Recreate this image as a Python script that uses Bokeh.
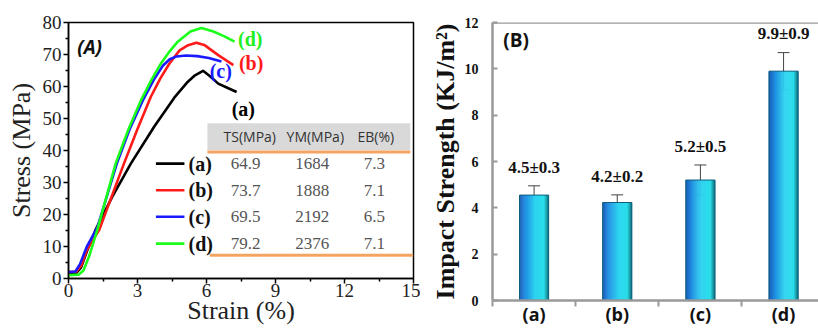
import numpy as np
from bokeh.plotting import figure
from bokeh.layouts import row
from bokeh.models import FixedTicker, ColumnDataSource, Whisker, TeeHead, Span, Range1d
from bokeh.core.properties import value
from bokeh.embed import file_html
from bokeh.resources import INLINE

# ---------------- Panel A data (stress-strain) ----------------
strain_a = [0, 0.35, 0.55, 0.8, 1.17, 1.9, 2.71, 3.73, 4.6, 5.19, 5.5, 5.85, 6.14, 6.51, 6.9, 7.31]
stress_a = [1.5, 1.8, 3.5, 8.5, 15.1, 25.5, 35.9, 47.5, 56.5, 61.5, 63.5, 64.9, 63.3, 60.9, 59.6, 58.3]
strain_b = [0, 0.35, 0.55, 0.8, 1.33, 2.41, 3.0, 3.58, 4.0, 4.39, 4.83, 5.2, 5.56, 5.9, 6.51, 7.17]
stress_b = [2.0, 2.2, 4.0, 9.0, 15.1, 35.9, 46.7, 56.8, 62.6, 67.2, 71.3, 72.9, 73.7, 73.0, 69.8, 66.7]
strain_c = [0, 0.3, 0.5, 0.8, 1.25, 2.1, 2.65, 3.22, 3.7, 4.1, 4.4, 4.7, 5.1, 5.6, 6.1, 6.65]
stress_c = [2.0, 2.2, 4.5, 10.0, 15.8, 35.9, 46.5, 55.5, 62.0, 66.5, 68.5, 69.4, 69.7, 69.5, 68.9, 67.8]
strain_d = [0, 0.45, 0.65, 0.9, 1.25, 2.05, 2.6, 3.14, 3.6, 4.02, 4.4, 4.75, 5.3, 5.78, 6.3, 6.8, 7.22]
stress_d = [1.0, 1.2, 2.5, 7.0, 15.1, 35.9, 46.5, 55.5, 62.0, 67.2, 71.0, 74.0, 77.2, 78.3, 77.2, 75.6, 74.0]

sample_names = ["(a)", "(b)", "(c)", "(d)"]
curve_colors = ["#000000", "#ff1a1a", "#1a1aff", "#1aff1a"]
label_colors = ["#000000", "#ff1a1a", "#1a1aff", "#22ee22"]
table_header = ["TS(MPa)", "YM(MPa)", "EB(%)"]
ts_vals = ["64.9", "73.7", "69.5", "79.2"]
ym_vals = ["1684", "1888", "2192", "2376"]
eb_vals = ["7.3", "7.1", "6.5", "7.1"]

# ---------------- Panel B data (impact strength) ----------------
bar_x = [1, 2, 3, 4]
bar_names = ["(a)", "(b)", "(c)", "(d)"]
impact = [4.55, 4.23, 5.2, 9.9]
impact_err = [0.4, 0.33, 0.65, 0.8]
impact_text = ["4.5\u00b10.3", "4.2\u00b10.2", "5.2\u00b10.5", "9.9\u00b10.9"]

SERIF = "Liberation Serif"
SANS = "Open Sans"

# ======================= Panel A =======================
pA = figure(width=420, height=328, output_backend="svg", toolbar_location=None,
            x_range=Range1d(0, 15), y_range=Range1d(0, 80),
            min_border_left=68, min_border_right=7, min_border_top=22, min_border_bottom=50)
pA.frame_align = False
pA.grid.visible = False
pA.outline_line_color = "#000000"
pA.outline_line_width = 1.5
pA.outline_line_alpha = 1.0

pA.xaxis.ticker = FixedTicker(ticks=[0, 3, 6, 9, 12, 15], minor_ticks=[1.5, 4.5, 7.5, 10.5, 13.5])
pA.yaxis.ticker = FixedTicker(ticks=list(range(0, 81, 10)), minor_ticks=list(range(5, 80, 10)))
for ax in (pA.xaxis[0], pA.yaxis[0]):
    ax.axis_line_color = "#000000"
    ax.axis_line_width = 1.5
    ax.major_tick_line_color = "#000000"
    ax.minor_tick_line_color = "#000000"
    ax.major_tick_line_width = 1.5
    ax.minor_tick_line_width = 1.5
    ax.major_tick_in = 0
    ax.major_tick_out = 5
    ax.minor_tick_in = 0
    ax.minor_tick_out = 3
    ax.major_label_text_font = SERIF
    ax.major_label_text_font_size = "19px"
    ax.major_label_text_color = "#222222"
    ax.axis_label_text_font = SERIF
    ax.axis_label_text_font_style = "normal"
    ax.axis_label_text_font_size = "26px"
    ax.axis_label_text_color = "#222222"
pA.xaxis.major_label_standoff = 0
pA.yaxis.major_label_standoff = 2
pA.yaxis.axis_label = "Stress (MPa)"
pA.yaxis.axis_label_standoff = 4
pA.xaxis.axis_label = "Strain (%)"
pA.xaxis.axis_label_standoff = -4

curves = [(strain_a, stress_a), (strain_b, stress_b), (strain_c, stress_c), (strain_d, stress_d)]
for (sx, sy), col in zip(curves, curve_colors):
    pA.line(sx, sy, line_color=col, line_width=2.6, line_join="round")

# curve labels
lab_pos = [(7.6, 53.1), (7.94, 67.4), (6.62, 64.9), (7.9, 75.0)]
pA.text(x=[p[0] for p in lab_pos], y=[p[1] for p in lab_pos], text=sample_names,
        text_color=label_colors,
        text_font=value(SERIF), text_font_style="bold", text_font_size="20px",
        text_align="center", text_baseline="middle")

# panel tag
pA.text(x=[0.38], y=[72.3], text=["(A)"], text_font=value(SANS), text_font_style="bold italic",
        text_font_size="19px", text_align="left", text_baseline="middle", text_color="#111111")

# table
pA.quad(left=[6.04], right=[14.86], bottom=[40.1], top=[48.5], fill_color="#d9d9d9", line_color=None)
pA.segment(x0=[6.04, 6.14], x1=[14.86, 14.99], y0=[39.5, 7.3], y1=[39.5, 7.3],
           line_color="#f4a360", line_width=3)
pA.text(x=[7.88, 10.73, 13.36], y=[44.3] * 3, text=table_header, text_font=value(SANS),
        text_font_size="14px", text_align="center", text_baseline="middle", text_color="#333333")
row_y = [35.9, 27.6, 19.3, 10.9]
for xc, vals in zip([7.7, 10.6, 13.3], [ts_vals, ym_vals, eb_vals]):
    pA.text(x=[xc] * 4, y=row_y, text=vals, text_font=value(SERIF), text_font_size="17px",
            text_align="center", text_baseline="middle", text_color="#555555")
# legend
pA.segment(x0=[3.8] * 4, x1=[5.04] * 4, y0=row_y, y1=row_y, line_color=curve_colors, line_width=2.6)
pA.text(x=[5.22] * 4, y=row_y, text=sample_names, text_font=value(SERIF), text_font_style="bold",
        text_font_size="20px", text_align="left", text_baseline="middle", text_color="#111111")

# ======================= Panel B =======================
pB = figure(width=398, height=328, output_backend="svg", toolbar_location=None,
            x_range=Range1d(0.5, 4.42), y_range=Range1d(0, 12),
            min_border_left=72, min_border_right=0, min_border_top=22, min_border_bottom=28)
pB.frame_align = False
pB.grid.visible = False
pB.outline_line_color = None
pB.add_layout(Span(location=12, dimension="width", line_color="#999999", line_width=2.5))

def grad(t):
    stops = [(0.0, (24, 88, 178)), (0.2, (30, 140, 225)), (0.55, (46, 212, 240)),
             (0.85, (42, 222, 234)), (1.0, (14, 116, 126))]
    for (t0, c0), (t1, c1) in zip(stops[:-1], stops[1:]):
        if t <= t1:
            f = (t - t0) / (t1 - t0)
            c = [int(round(a + (b - a) * f)) for a, b in zip(c0, c1)]
            return "#%02x%02x%02x" % tuple(c)
    return "#%02x%02x%02x" % stops[-1][1]

bw = 0.35
n_strip = 30
gx, gtop, gcol = [], [], []
for xc, v in zip(bar_x, impact):
    for k in range(n_strip):
        t = (k + 0.5) / n_strip
        gx.append(xc - bw / 2 + bw * t)
        gtop.append(v)
        gcol.append(grad(t))
pB.vbar(x=gx, top=gtop, bottom=0, width=bw / n_strip * 1.6, fill_color=gcol, line_color=None)
pB.vbar(x=bar_x, top=impact, bottom=0, width=bw, fill_color=None, line_color="#0d5f80", line_width=1)

err_src = ColumnDataSource(dict(x=bar_x,
                                upper=[v + e for v, e in zip(impact, impact_err)],
                                lower=[v - e for v, e in zip(impact, impact_err)]))
pB.add_layout(Whisker(base="x", upper="upper", lower="lower", source=err_src,
                      line_color="#444444", line_width=1,
                      upper_head=TeeHead(size=12, line_color="#444444", line_width=1),
                      lower_head=TeeHead(size=12, line_color="#444444", line_width=1)))

pB.text(x=bar_x, y=[v + e + 0.4 for v, e in zip(impact, impact_err)], text=impact_text,
        text_font=value(SERIF), text_font_style="bold", text_font_size="17px",
        text_align="center", text_baseline="bottom", text_color="#111111")
pB.text(x=[0.63], y=[11.25], text=["(B)"], text_font=value(SANS), text_font_style="bold",
        text_font_size="19px", text_align="left", text_baseline="middle", text_color="#111111")

pB.xaxis.ticker = FixedTicker(ticks=bar_x, minor_ticks=[0.5, 1.5, 2.5, 3.5])
pB.xaxis.major_label_overrides = {x: n for x, n in zip(bar_x, bar_names)}
pB.yaxis.ticker = FixedTicker(ticks=list(range(0, 13, 2)), minor_ticks=[])
for ax in (pB.xaxis[0], pB.yaxis[0]):
    ax.axis_line_color = "#999999"
    ax.axis_line_width = 2.5
    ax.major_tick_line_color = "#999999"
    ax.minor_tick_line_color = "#999999"
    ax.major_tick_line_width = 2
    ax.minor_tick_line_width = 2
pB.xaxis.major_tick_line_color = None
pB.xaxis.major_tick_in = 0
pB.xaxis.major_tick_out = 0
pB.xaxis.minor_tick_in = 0
pB.xaxis.minor_tick_out = 6
pB.xaxis.major_label_standoff = -5
pB.xaxis.major_label_text_font = SANS
pB.xaxis.major_label_text_font_style = "bold"
pB.xaxis.major_label_text_font_size = "18px"
pB.xaxis.major_label_text_color = "#111111"
pB.yaxis.major_tick_in = 5
pB.yaxis.major_tick_out = 0
pB.yaxis.minor_tick_in = 0
pB.yaxis.minor_tick_out = 0
pB.yaxis.major_label_standoff = 14
pB.yaxis.major_label_text_font = SERIF
pB.yaxis.major_label_text_font_style = "bold"
pB.yaxis.major_label_text_font_size = "14px"
pB.yaxis.major_label_text_color = "#111111"
pB.yaxis.axis_label = "Impact Strength (KJ/m\u00b2)"
pB.yaxis.axis_label_text_font = SERIF
pB.yaxis.axis_label_text_font_style = "bold"
pB.yaxis.axis_label_text_font_size = "26px"
pB.yaxis.axis_label_text_color = "#111111"
pB.yaxis.axis_label_standoff = 2

layout = row(pA, pB)
open("out.html", "w").write(file_html(layout, INLINE))
